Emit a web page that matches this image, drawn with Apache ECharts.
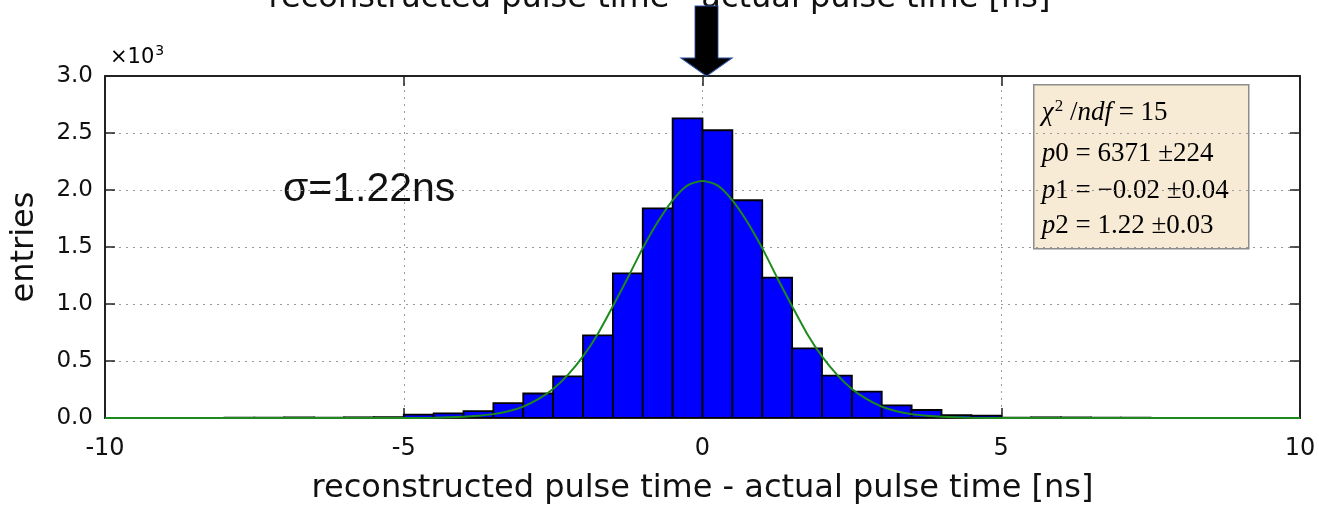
<!DOCTYPE html>
<html>
<head>
<meta charset="utf-8">
<script src="https://cdn.jsdelivr.net/npm/echarts@6/dist/echarts.min.js"></script>
<style>
html,body{margin:0;padding:0;background:#fff;}
#chart{width:1319px;height:505px;}
</style>
</head>
<body>
<div id="chart"></div>
<script>
// Histogram bin edges (ns)
const binEdges = [-10,-9.5,-9,-8.5,-8,-7.5,-7,-6.5,-6,-5.5,-5,-4.5,-4,-3.5,-3,-2.5,-2,-1.5,-1,-0.5,0,0.5,1,1.5,2,2.5,3,3.5,4,4.5,5,5.5,6,6.5,7,7.5,8,8.5,9,9.5,10];
// Entries per bin (x10^3)
const binCounts = [0.001,0.001,0.001,0.001,0.002,0.002,0.005,0.003,0.006,0.008,
                   0.030,0.040,0.060,0.130,0.215,0.366,0.725,1.269,1.839,2.629,
                   2.524,1.910,1.231,0.611,0.371,0.231,0.110,0.070,0.026,0.020,
                   0.004,0.006,0.005,0.002,0.002,0.001,0.001,0.001,0.001,0.001];
// Gaussian fit curve (x10^3)
const fitX = [-10,-8,-6,-5,-4.5,-4,-3.75,-3.5,-3.25,-3,-2.75,-2.5,-2.25,-2,-1.75,-1.5,-1.25,-1,-0.75,-0.5,-0.25,0,0.25,0.5,0.75,1,1.25,1.5,1.75,2,2.25,2.5,2.75,3,3.25,3.5,3.75,4,4.5,5,6,8,10];
const fitY = [0,0,0,0.0005,0.002,0.010,0.019,0.034,0.059,0.10,0.165,0.255,0.38,0.54,0.74,0.98,1.23,1.49,1.72,1.91,2.04,2.08,2.04,1.91,1.72,1.49,1.23,0.98,0.74,0.54,0.38,0.255,0.165,0.10,0.059,0.034,0.019,0.010,0.002,0.0005,0,0,0];
const xTicks = [-10,-5,0,5,10];
const yTicks = [0,0.5,1,1.5,2,2.5,3];
const fitLines = [
  ['χ', '2', ' /', 'ndf', ' = 15'],
  ['p', '0 = 6371 ±224'],
  ['p', '1 = −0.02 ±0.04'],
  ['p', '2 = 1.22 ±0.03']
];
const xTitle = 'reconstructed pulse time - actual pulse time [ns]';
const yTitle = 'entries';
const sigmaText = 'σ=1.22ns';

const histData = binCounts.map((c, i) => [binEdges[i], binEdges[i + 1], c]);
const fitData = fitX.map((x, i) => [x, fitY[i]]);

const chart = echarts.init(document.getElementById('chart'), null, {renderer: 'canvas'});
const FONT = 'DejaVu Sans';

const splitDotted = {show: true, lineStyle: {color: '#9a9a9a', type: [2, 5], width: 1}};
const baseX = {
  type: 'value', min: xTicks[0], max: xTicks[xTicks.length - 1], interval: 5,
  axisLine: {show: true, onZero: false, lineStyle: {color: '#222', width: 2}},
  axisTick: {show: true, inside: true, length: 10, lineStyle: {color: '#222', width: 1.5}},
};
const baseY = {
  type: 'value', min: yTicks[0], max: yTicks[yTicks.length - 1], interval: 0.5,
  axisLine: {show: true, onZero: false, lineStyle: {color: '#222', width: 2}},
  axisTick: {show: true, inside: true, length: 10, lineStyle: {color: '#222', width: 1.5}},
};

const fitRich = {
  i: {fontFamily: 'Liberation Serif', fontStyle: 'italic', fontSize: 27, color: '#111'},
  n: {fontFamily: 'Liberation Serif', fontSize: 27, color: '#111'},
  sup: {fontFamily: 'Liberation Serif', fontSize: 17, color: '#111', verticalAlign: 'top', padding: [0, 0, 12, 1]}
};
function fitLineText(parts, idx) {
  if (idx === 0) return '{i|' + parts[0] + '}{sup|' + parts[1] + '}{n|' + parts[2] + '}{i|' + parts[3] + '}{n|' + parts[4] + '}';
  return '{i|' + parts[0] + '}{n|' + parts[1] + '}';
}
const fitTop = [28, 69, 106, 141];

chart.setOption({
  animation: false,
  backgroundColor: '#fff',
  grid: {left: 105, right: 19, top: 76, bottom: 87, containLabel: false, outerBoundsMode: 'none'},
  xAxis: [
    Object.assign({}, baseX, {
      position: 'bottom',
      name: xTitle, nameLocation: 'middle', nameGap: 55,
      nameTextStyle: {fontFamily: FONT, fontSize: 32, color: '#111'},
      axisLabel: {show: true, fontFamily: FONT, fontSize: 24, color: '#111', margin: 19,
        formatter: v => String(v)},
      splitLine: splitDotted
    }),
    Object.assign({}, baseX, {position: 'top', axisLabel: {show: false}, splitLine: {show: false}})
  ],
  yAxis: [
    Object.assign({}, baseY, {
      position: 'left',
      name: yTitle, nameLocation: 'middle', nameGap: 64, nameRotate: 90,
      nameTextStyle: {fontFamily: FONT, fontSize: 32, color: '#111'},
      axisLabel: {show: true, fontFamily: FONT, fontSize: 23, color: '#111', margin: 12,
        formatter: v => v.toFixed(1)},
      splitLine: splitDotted
    }),
    Object.assign({}, baseY, {position: 'right', axisLabel: {show: false}, splitLine: {show: false}})
  ],
  series: [
    {
      type: 'custom',
      xAxisIndex: 0, yAxisIndex: 0,
      data: histData,
      encode: {x: [0, 1], y: 2},
      clip: true,
      z: 2,
      renderItem: function (params, api) {
        const a = api.coord([api.value(0), api.value(2)]);
        const b = api.coord([api.value(1), 0]);
        return {
          type: 'rect',
          shape: {x: a[0], y: a[1], width: b[0] - a[0], height: b[1] - a[1]},
          style: {fill: '#0000ff', stroke: '#000', lineWidth: 1.8}
        };
      }
    },
    {
      type: 'line',
      xAxisIndex: 0, yAxisIndex: 0,
      data: fitData,
      showSymbol: false,
      smooth: 0.25,
      z: 3,
      lineStyle: {color: '#1d8a1d', width: 2},
      markPoint: {
        silent: true,
        symbol: 'path://M14,0 L37,0 L37,52 L51,52 L25.5,70 L0,52 L14,52 Z',
        symbolSize: [51, 70],
        symbolOffset: [4, '-50%'],
        itemStyle: {color: '#000', borderColor: '#2a4f9e', borderWidth: 1},
        label: {show: false},
        data: [{coord: [0, 3]}]
      }
    }
  ],
  graphic: [
    {
      type: 'text', left: 'center', top: -17,
      style: {text: xTitle, fontFamily: FONT, fontSize: 32, fill: '#111'}
    },
    {
      type: 'text', left: 283, top: 169,
      style: {text: sigmaText, fontFamily: 'Liberation Sans', fontSize: 41, fill: '#111'}
    },
    {
      type: 'text', left: 110, top: 44,
      style: {
        text: '{a|×10}{b|3}',
        rich: {
          a: {fontFamily: FONT, fontSize: 21, color: '#333'},
          b: {fontFamily: FONT, fontSize: 14, color: '#333', verticalAlign: 'top', padding: [0, 0, 13, 1]}
        }
      }
    },
    {
      type: 'group', left: 1033, top: 84,
      children: [
        {type: 'rect', shape: {x: 0, y: 0, width: 215, height: 164},
         style: {fill: '#f8ebd5', stroke: '#8c8c8c', lineWidth: 1.5}},
      ].concat(fitLines.map((parts, i) => ({
        type: 'text', x: 8, y: fitTop[i],
        style: {text: fitLineText(parts, i), rich: fitRich, verticalAlign: 'middle'}
      })))
    }
  ]
});
</script>
</body>
</html>
